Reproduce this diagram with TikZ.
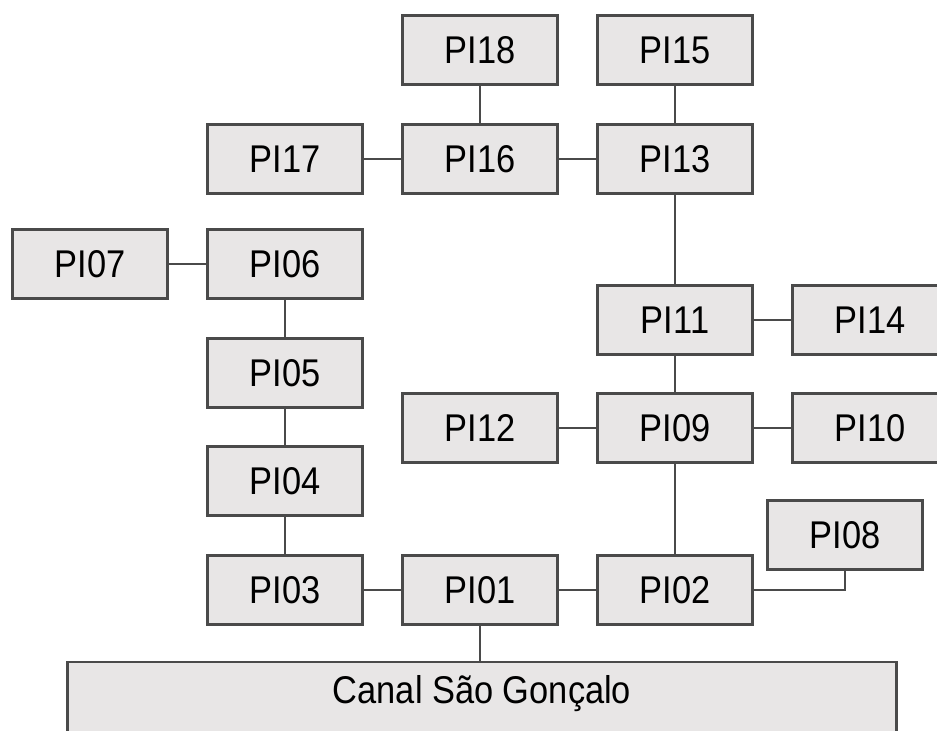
\documentclass[tikz,border=0pt]{standalone}
\usepackage{fontspec}
\setmainfont[FakeStretch=0.89]{Liberation Sans}
\usepackage{xcolor}
\usetikzlibrary{positioning,calc}
\definecolor{borde}{HTML}{4A4A4A}
\definecolor{fondo}{HTML}{E8E6E6}

\begin{document}
\begin{tikzpicture}[x=0.2mm, y=-0.2mm, font=\fontsize{22}{26}\selectfont,
  caja/.style={draw=borde, line width=1.2pt, fill=fondo, minimum width=3.1cm, minimum height=1.38cm, inner sep=0pt},
  linea/.style={draw=borde, line width=1.2pt}]
  \clip (0,0) rectangle (937,730);
  \node[caja] (pi18) at (480,50) {PI18};
  \node[caja] (pi15) at (675,50) {PI15};
  \node[caja] (pi17) at (285,159) {PI17};
  \node[caja] (pi16) at (480,159) {PI16};
  \node[caja] (pi13) at (675,159) {PI13};
  \node[caja] (pi07) at (90,264) {PI07};
  \node[caja] (pi06) at (285,264) {PI06};
  \node[caja] (pi11) at (675,320) {PI11};
  \node[caja] (pi14) at (870,320) {PI14};
  \node[caja] (pi05) at (285,373) {PI05};
  \node[caja] (pi12) at (480,428) {PI12};
  \node[caja] (pi09) at (675,428) {PI09};
  \node[caja] (pi10) at (870,428) {PI10};
  \node[caja] (pi04) at (285,481) {PI04};
  \node[caja] (pi08) at (845,535) {PI08};
  \node[caja] (pi03) at (285,590) {PI03};
  \node[caja] (pi01) at (480,590) {PI01};
  \node[caja] (pi02) at (675,590) {PI02};
  \node[caja, minimum width=16.58cm, minimum height=1.56cm] (canal) at (482,701) {};
  \node (txtcanal) at (482,694) {Canal São Gonçalo};
  % conexiones
  \draw[linea] (pi18) -- (pi16);
  \draw[linea] (pi15) -- (pi13);
  \draw[linea] (pi17) -- (pi16);
  \draw[linea] (pi16) -- (pi13);
  \draw[linea] (pi13) -- (pi11);
  \draw[linea] (pi07) -- (pi06);
  \draw[linea] (pi06) -- (pi05);
  \draw[linea] (pi05) -- (pi04);
  \draw[linea] (pi04) -- (pi03);
  \draw[linea] (pi11) -- (pi14);
  \draw[linea] (pi11) -- (pi09);
  \draw[linea] (pi12) -- (pi09);
  \draw[linea] (pi09) -- (pi10);
  \draw[linea] (pi09) -- (pi02);
  \draw[linea] (pi03) -- (pi01);
  \draw[linea] (pi01) -- (pi02);
  \draw[linea] (pi01) -- (pi01 |- canal.north);
  \draw[linea] (pi02.east) -| (pi08.south);
\end{tikzpicture}
\end{document}
